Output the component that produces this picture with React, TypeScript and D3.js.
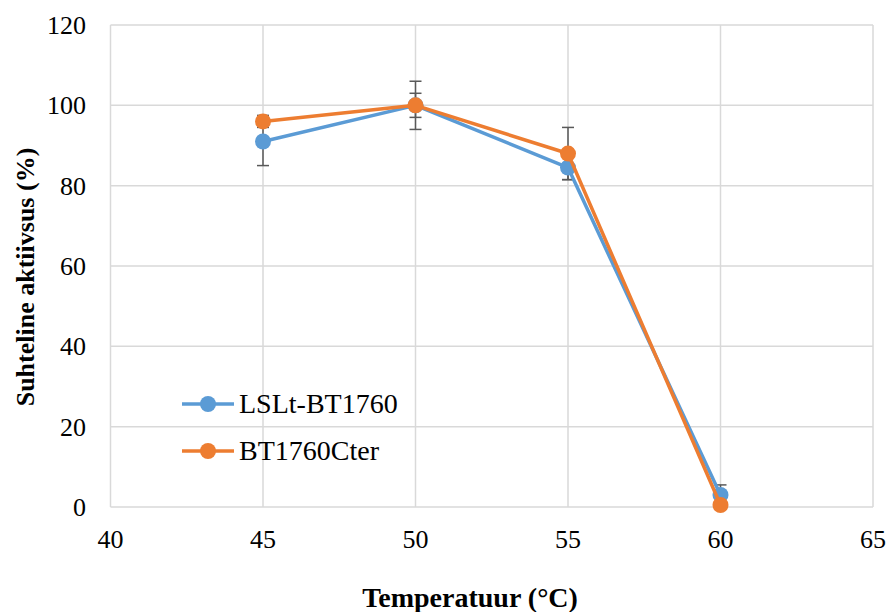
import React, { useEffect, useRef } from 'react';
import * as d3 from 'd3';

const temps = [45, 50, 55, 60];
const lsltValues = [91, 100, 84.5, 3];
const lsltErrors = [6, 6, 3, 2.5];
const cterValues = [96, 100, 88, 0.5];
const cterErrors = [1.5, 3, 6.5, 0];
const seriesNames = ['LSLt-BT1760', 'BT1760Cter'];
const seriesColors = ['#5B9BD5', '#ED7D31'];
const xTicks = [40, 45, 50, 55, 60, 65];
const yTicks = [0, 20, 40, 60, 80, 100, 120];

const App = () => {
  const ref = useRef<SVGSVGElement>(null);

  useEffect(() => {
    const svg = d3.select(ref.current);
    svg.selectAll('*').remove();
    const font = "'Liberation Serif', serif";

    const x = d3.scaleLinear().domain([40, 65]).range([110.5, 873]);
    const y = d3.scaleLinear().domain([0, 120]).range([507, 25]);

    const g = svg.append('g').attr('font-family', font);

    // gridlines
    g.selectAll('.hgrid')
      .data(yTicks)
      .enter()
      .append('line')
      .attr('x1', x(40)).attr('x2', x(65))
      .attr('y1', d => y(d)).attr('y2', d => y(d))
      .attr('stroke', '#d9d9d9').attr('stroke-width', 1.5);
    g.selectAll('.vgrid')
      .data(xTicks)
      .enter()
      .append('line')
      .attr('x1', d => x(d)).attr('x2', d => x(d))
      .attr('y1', y(0)).attr('y2', y(120))
      .attr('stroke', '#d9d9d9').attr('stroke-width', 1.5);

    // tick labels
    g.selectAll('.ylab')
      .data(yTicks)
      .enter()
      .append('text')
      .attr('x', 86).attr('y', d => y(d) + 9)
      .attr('text-anchor', 'end')
      .attr('font-size', 26)
      .text(d => d);
    g.selectAll('.xlab')
      .data(xTicks)
      .enter()
      .append('text')
      .attr('x', d => x(d)).attr('y', 548)
      .attr('text-anchor', 'middle')
      .attr('font-size', 26)
      .text(d => d);

    // axis titles
    g.append('text')
      .attr('transform', 'translate(34,277) rotate(-90)')
      .attr('text-anchor', 'middle')
      .attr('font-size', 26).attr('font-weight', 'bold')
      .text('Suhteline aktiivsus (%)');
    g.append('text')
      .attr('x', 470).attr('y', 607)
      .attr('text-anchor', 'middle')
      .attr('font-size', 28).attr('font-weight', 'bold')
      .text('Temperatuur (°C)');

    const series = [
      { values: lsltValues, errors: lsltErrors },
      { values: cterValues, errors: cterErrors },
    ];

    // error bars
    series.forEach(s => {
      temps.forEach((t, i) => {
        const e = s.errors[i];
        if (e <= 0) return;
        const v = s.values[i];
        g.append('line')
          .attr('x1', x(t)).attr('x2', x(t))
          .attr('y1', y(v - e)).attr('y2', y(v + e))
          .attr('stroke', '#595959').attr('stroke-width', 1.5);
        [v - e, v + e].forEach(c => {
          g.append('line')
            .attr('x1', x(t) - 6).attr('x2', x(t) + 6)
            .attr('y1', y(c)).attr('y2', y(c))
            .attr('stroke', '#595959').attr('stroke-width', 1.5);
        });
      });
    });

    const line = d3.line<number>()
      .x((d, i) => x(temps[i]))
      .y(d => y(d));

    series.forEach((s, k) => {
      g.append('path')
        .datum(s.values)
        .attr('d', line)
        .attr('fill', 'none')
        .attr('stroke', seriesColors[k])
        .attr('stroke-width', 3.5)
        .attr('stroke-linejoin', 'round');
      g.selectAll('.pt' + k)
        .data(s.values)
        .enter()
        .append('circle')
        .attr('cx', (d, i) => x(temps[i]))
        .attr('cy', d => y(d))
        .attr('r', 8)
        .attr('fill', seriesColors[k]);
    });

    // legend
    seriesNames.forEach((name, k) => {
      const ly = 404 + k * 47;
      g.append('line')
        .attr('x1', 182).attr('x2', 234)
        .attr('y1', ly).attr('y2', ly)
        .attr('stroke', seriesColors[k]).attr('stroke-width', 3.5);
      g.append('circle')
        .attr('cx', 208).attr('cy', ly).attr('r', 8)
        .attr('fill', seriesColors[k]);
      g.append('text')
        .attr('x', 239).attr('y', ly + 9)
        .attr('font-size', 28)
        .text(name);
    });
  }, []);

  return (
    <svg ref={ref} width={886} height={612} style={{ display: 'block', position: 'absolute', left: 0, top: 0, background: '#fff' }} />
  );
};

export default App;
